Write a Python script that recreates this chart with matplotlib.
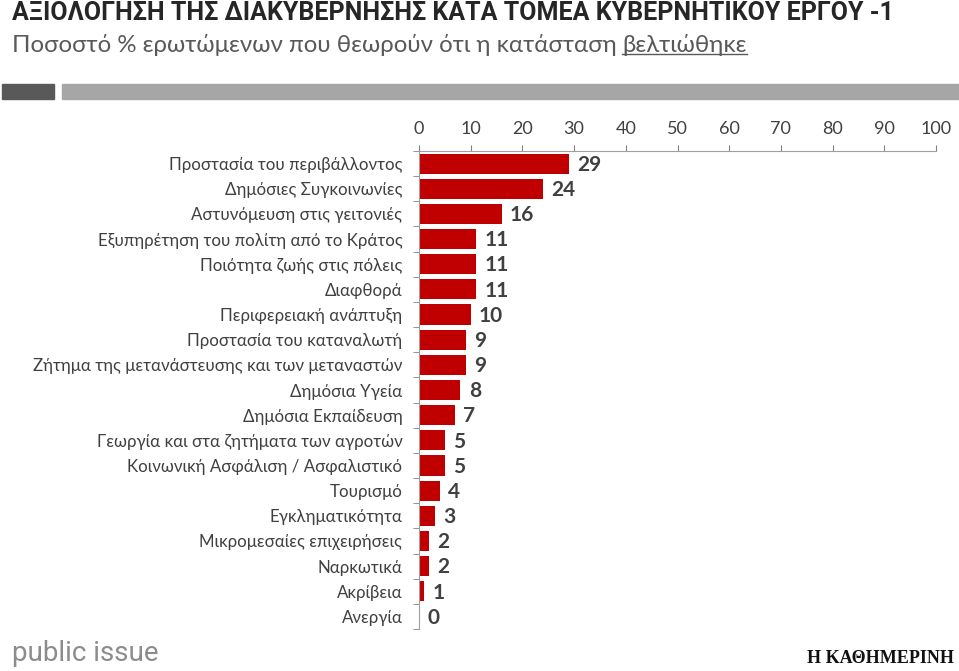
import matplotlib.pyplot as plt
from matplotlib.patches import Rectangle

categories = [
    "Προστασία του περιβάλλοντος",
    "Δημόσιες Συγκοινωνίες",
    "Αστυνόμευση στις γειτονιές",
    "Εξυπηρέτηση του πολίτη από το Κράτος",
    "Ποιότητα ζωής στις πόλεις",
    "Διαφθορά",
    "Περιφερειακή ανάπτυξη",
    "Προστασία του καταναλωτή",
    "Ζήτημα της μετανάστευσης και των μεταναστών",
    "Δημόσια Υγεία",
    "Δημόσια Εκπαίδευση",
    "Γεωργία και στα ζητήματα των αγροτών",
    "Κοινωνική Ασφάλιση / Ασφαλιστικό",
    "Τουρισμό",
    "Εγκληματικότητα",
    "Μικρομεσαίες επιχειρήσεις",
    "Ναρκωτικά",
    "Ακρίβεια",
    "Ανεργία",
]
values = [29, 24, 16, 11, 11, 11, 10, 9, 9, 8, 7, 5, 5, 4, 3, 2, 2, 1, 0]
xticks = list(range(0, 101, 10))

FONT = ["Lato", "Open Sans", "DejaVu Sans"]
plt.rcParams["font.family"] = FONT

fig = plt.figure(figsize=(9.59, 6.71), dpi=100)

# header
fig.text(0.012, 0.981, "ΑΞΙΟΛΟΓΗΣΗ ΤΗΣ ΔΙΑΚΥΒΕΡΝΗΣΗΣ ΚΑΤΑ ΤΟΜΕΑ ΚΥΒΕΡΝΗΤΙΚΟΥ ΕΡΓΟΥ -1",
         fontsize=18, fontweight="bold", color="#262626", va="center",
         family=["Roboto", "DejaVu Sans"])
sub = fig.text(0.012, 0.933, "Ποσοστό % ερωτώμενων που θεωρούν ότι η κατάσταση ",
               fontsize=17.3, color="#595959", va="center")
fig.canvas.draw()
bb = sub.get_window_extent().transformed(fig.transFigure.inverted())
ul = fig.text(bb.x1, 0.933, "βελτιώθηκε", fontsize=17.3, color="#595959", va="center")
fig.canvas.draw()
ub = ul.get_window_extent().transformed(fig.transFigure.inverted())
fig.add_artist(plt.Line2D([ub.x0, ub.x1], [ub.y0 + 0.003, ub.y0 + 0.003],
                          color="#595959", lw=1, transform=fig.transFigure))

fig.add_artist(Rectangle((0.002, 1 - 99 / 671), 52 / 959, 15 / 671,
                         color="#595959", transform=fig.transFigure))
fig.add_artist(Rectangle((62 / 959, 1 - 99 / 671), 897 / 959, 15 / 671,
                         color="#a6a6a6", transform=fig.transFigure))

ax = fig.add_axes([419 / 959, 1 - 629 / 671, 517 / 959, 478 / 671])
ypos = list(range(len(categories)))
ax.barh(ypos, values, height=0.8, color="#c00000")
for y, v in zip(ypos, values):
    ax.text(v + 1.6, y + 0.05, str(v), va="center", ha="left", fontsize=15,
            fontweight="bold", color="#404040")

ax.set_xlim(0, 100)
ax.set_ylim(len(categories) - 0.5, -0.5)
ax.xaxis.tick_top()
ax.set_xticks(xticks)
ax.set_xticklabels([str(t) for t in xticks], fontsize=13, color="#404040")
ax.tick_params(axis="x", colors="#808080", labelcolor="#404040", length=4, pad=6)
ax.set_yticks(ypos)
ax.set_yticklabels(categories, fontsize=12.2, color="#404040")
ax.set_yticks([y + 0.5 for y in ypos[:-1]] + [-0.5, len(categories) - 0.5], minor=True)
ax.tick_params(axis="y", which="major", length=0, pad=12)
ax.tick_params(axis="y", which="minor", length=4, color="#808080")
for s in ["right", "bottom"]:
    ax.spines[s].set_visible(False)
for s in ["top", "left"]:
    ax.spines[s].set_color("#a0a0a0")

# footer logos
fig.text(0.012, 0.026, "public issue", fontsize=20, color="#8c8c8c",
         family=["Roboto", "DejaVu Sans"], va="center")
fig.text(0.995, 0.018, "Η ΚΑΘΗΜΕΡΙΝΗ", fontsize=13, color="#111111",
         fontweight="bold", family=["Liberation Serif", "DejaVu Serif"],
         ha="right", va="center")

fig.savefig("out.png", dpi=100)
